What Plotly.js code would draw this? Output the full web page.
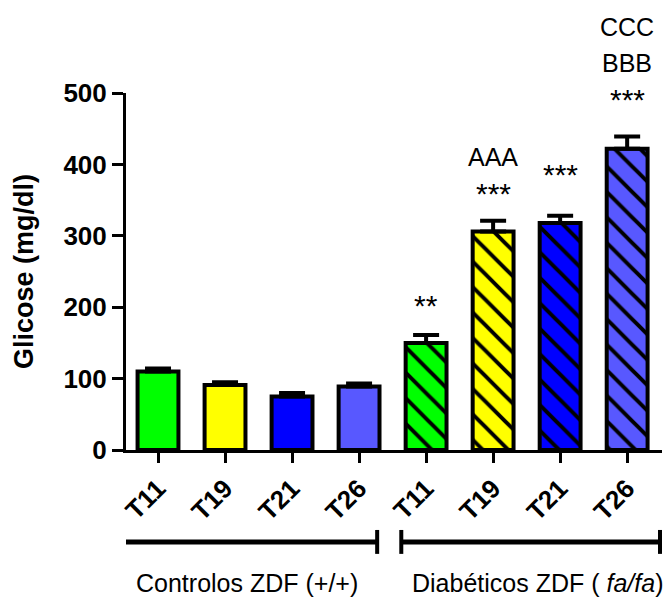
<!DOCTYPE html>
<html>
<head>
<meta charset="utf-8">
<script src="https://cdn.plot.ly/plotly-3.0.1.min.js"></script>
<style>
  html, body { margin: 0; padding: 0; background: #ffffff; }
  #chart { width: 664px; height: 598px; }
</style>
</head>
<body>
<div id="chart"></div>
<script>
// Blood glucose (mg/dl), mean + SEM, control vs diabetic ZDF rats at four time points
const tickLabels = ['T11', 'T19', 'T21', 'T26', 'T11', 'T19', 'T21', 'T26'];
const groupNames = ['Controlos ZDF (+/+)', 'Diabéticos ZDF ( <i>fa/fa</i>)'];
const groupMembers = [[0, 1, 2, 3], [4, 5, 6, 7]];
const glucose = [110, 91, 75, 89, 150, 306, 318, 422];
const sem = [4, 4, 5, 4, 11, 15, 10, 17];
// significance marks stacked above each bar, bottom line first
const marks = [[], [], [], [], ['**'], ['***', 'AAA'], ['***'], ['***', 'BBB', 'CCC']];

const FONT = 'Liberation Sans, Arial, Helvetica, sans-serif';
const colors = ['#00ff00', '#ffff00', '#0000ff', '#5858ff', '#00ff00', '#ffff00', '#0000ff', '#5858ff'];
const hatched = [false, false, false, false, true, true, true, true];
const xs = tickLabels.map((_, i) => i);

// one trace per bar so each keeps its own solid fill under the black hatching
const traces = xs.map(i => ({
  type: 'bar',
  x: [xs[i]],
  y: [glucose[i]],
  width: 0.61,
  marker: {
    color: colors[i],
    line: { color: '#000000', width: 4 },
    pattern: hatched[i] ? {
      shape: '\\',
      fgcolor: '#000000',
      bgcolor: colors[i],
      fgopacity: 1,
      size: 18,
      solidity: 0.22,
      fillmode: 'replace'
    } : { shape: '' }
  },
  error_y: {
    type: 'data',
    symmetric: false,
    array: [sem[i]],
    arrayminus: [0],
    color: '#000000',
    thickness: 4,
    width: 13
  },
  hoverinfo: 'skip'
}));

// pixel offsets of the first mark line above the error cap, then line spacing
const firstOffset = [0, 0, 0, 0, 34, 31, 45, 41];
const lineGap = 36;
const annotations = [];
marks.forEach((lines, i) => {
  lines.forEach((txt, k) => {
    const isStar = txt.indexOf('*') === 0;
    annotations.push({
      x: xs[i], xref: 'x',
      y: glucose[i] + sem[i], yref: 'y',
      text: txt,
      showarrow: false,
      xanchor: 'center', yanchor: 'middle',
      yshift: firstOffset[i] + k * lineGap + (isStar ? -4 : -3),
      font: { family: FONT, size: isStar ? 30 : 25, color: '#000000' }
    });
  });
});

// group brackets under the category labels
const shapes = [];
const bracketY = -0.2577, capLo = -0.224, capHi = -0.291;
const bracketPad = [[-0.64, 0.27], [-0.37, 0.49]];
groupMembers.forEach((members, g) => {
  const x0 = xs[members[0]] + bracketPad[g][0];
  const x1 = xs[members[members.length - 1]] + bracketPad[g][1];
  shapes.push({ type: 'line', xref: 'x', yref: 'paper', x0: x0, x1: x1, y0: bracketY, y1: bracketY, line: { color: '#000000', width: 5 } });
  shapes.push({ type: 'line', xref: 'x', yref: 'paper', x0: x0, x1: x0, y0: capLo, y1: capHi, line: { color: '#000000', width: 4 } });
  shapes.push({ type: 'line', xref: 'x', yref: 'paper', x0: x1, x1: x1, y0: capLo, y1: capHi, line: { color: '#000000', width: 4 } });
  const mid = (xs[members[0]] + xs[members[members.length - 1]]) / 2;
  annotations.push({
    x: mid + (g === 0 ? -0.17 : 0.16), xref: 'x',
    y: -0.3725, yref: 'paper',
    text: groupNames[g],
    showarrow: false,
    xanchor: 'center', yanchor: 'middle',
    font: { family: FONT, size: 25, color: '#000000' }
  });
});

const layout = {
  width: 664,
  height: 598,
  margin: { l: 126, r: 2, t: 93, b: 148, pad: 0 },
  paper_bgcolor: '#ffffff',
  plot_bgcolor: '#ffffff',
  showlegend: false,
  barmode: 'overlay',
  xaxis: {
    range: [-0.4776, 7.52],
    tickvals: xs,
    ticktext: tickLabels,
    tickangle: -45,
    ticks: 'outside',
    ticklen: 10,
    tickwidth: 3,
    tickcolor: '#000000',
    showline: true,
    linecolor: '#000000',
    linewidth: 3,
    showgrid: false,
    zeroline: false,
    fixedrange: true,
    tickfont: { family: FONT, size: 26, color: '#000000', weight: 'bold' }
  },
  yaxis: {
    range: [0, 500],
    tickvals: [0, 100, 200, 300, 400, 500],
    ticks: 'outside',
    ticklen: 11,
    tickwidth: 3,
    tickcolor: '#000000',
    showline: true,
    linecolor: '#000000',
    linewidth: 3,
    showgrid: false,
    zeroline: false,
    fixedrange: true,
    tickfont: { family: FONT, size: 26, color: '#000000', weight: 'bold' },
    title: {
      text: 'Glicose (mg/dl)',
      standoff: 22,
      font: { family: FONT, size: 27, color: '#000000', weight: 'bold' }
    }
  },
  shapes: shapes,
  annotations: annotations
};

Plotly.newPlot('chart', traces, layout, { displayModeBar: false, staticPlot: true });
</script>
</body>
</html>
